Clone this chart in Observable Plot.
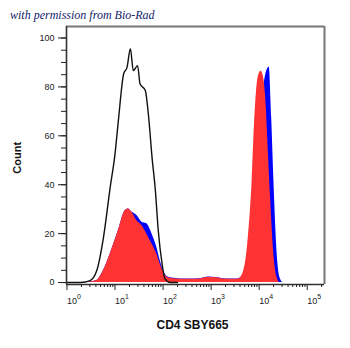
<!DOCTYPE html>
<html><head><meta charset="utf-8">
<script src="https://cdn.jsdelivr.net/npm/d3@7"></script>
<script src="https://cdn.jsdelivr.net/npm/@observablehq/plot@0.6"></script>
<style>
body{margin:0;background:#fff;}
#cap{height:20px;font:italic 12px "Liberation Serif","DejaVu Serif",serif;color:#16226b;padding-left:10px;line-height:30px;white-space:nowrap;overflow:visible;}
</style></head><body>
<div id="cap">with permission from Bio-Rad</div>
<div id="chart"></div>
<script>
// Black outline histogram (control)
const blackLog   = [0, 0.28, 0.48, 0.62, 0.76, 0.90, 1.0, 1.07, 1.18, 1.25, 1.32, 1.38, 1.47, 1.52, 1.63, 1.70, 1.77, 1.84, 1.90, 1.98, 2.04, 2.15, 2.3];
const blackCount = [0, 0, 0.8, 4.9, 18.5, 39, 52.6, 66.3, 85.4, 88, 95.6, 86.7, 88.7, 81.3, 78.5, 67.6, 51.3, 37.6, 21.3, 7.6, 1.5, 0, 0];
// Red filled histogram
const redLog   = [0.3, 0.48, 0.62, 0.76, 0.90, 1.07, 1.21, 1.28, 1.35, 1.45, 1.56, 1.66, 1.77, 1.87, 1.94, 2.01, 2.08, 2.22, 2.5, 2.77, 2.95, 3.1, 3.3, 3.5, 3.6, 3.71, 3.78, 3.85, 3.91, 3.98, 4.04, 4.09, 4.14, 4.19, 4.24, 4.30, 4.37, 4.43, 4.5];
const redCount = [0, 0.2, 0.8, 4.9, 11.7, 21.3, 29.4, 30.1, 28.8, 25.4, 23.3, 19.9, 15.8, 11.7, 7.6, 4.2, 2.2, 1.6, 1.3, 1.5, 2.2, 2.0, 1.4, 1.3, 1.8, 7.6, 19.9, 40, 67.6, 84, 86.4, 84, 74.4, 54, 33.5, 13, 2.2, 0, 0];
// Blue filled histogram
const blueLog   = [0.3, 0.48, 0.62, 0.76, 0.90, 1.07, 1.21, 1.28, 1.35, 1.45, 1.56, 1.66, 1.77, 1.87, 1.94, 2.01, 2.08, 2.22, 2.5, 2.77, 2.95, 3.1, 3.3, 3.5, 3.6, 3.7, 3.8, 3.9, 4.0, 4.08, 4.15, 4.21, 4.26, 4.31, 4.37, 4.43, 4.5, 4.55];
const blueCount = [0, 0.2, 0.8, 4.9, 11.7, 21.3, 29.4, 30.1, 28.8, 27.5, 24.7, 24.0, 19.9, 14.4, 9.0, 4.9, 2.5, 1.8, 1.4, 1.6, 2.3, 2.1, 1.5, 1.4, 1.8, 5, 15, 35, 62, 78, 86, 88, 67.6, 40, 13, 2.2, 0, 0];
// Tick values
const yMajor = [0, 20, 40, 60, 80, 100];
const yMinor = [0,5,10,15,20,25,30,35,40,45,50,55,60,65,70,75,80,85,90,95,100];
const xMajor = [1, 10, 100, 1000, 10000, 100000];

const xMin = 10 ** -0.01, xMax = 10 ** 5.36, yMin = -0.8, yMax = 104.7;
const xMinor = [];
for (const d of xMajor) for (let k = 2; k <= 9; k++) { const v = k * d; if (v <= xMax) xMinor.push(v); }

const toRows = (lg, c) => lg.map((e, i) => ({x: 10 ** e, y: c[i]}));
const black = toRows(blackLog, blackCount);
const red = toRows(redLog, redCount);
const blue = toRows(blueLog, blueCount);

const chart = Plot.plot({
  width: 350, height: 328,
  marginTop: 6, marginBottom: 64, marginLeft: 66, marginRight: 26,
  x: {type: "log", domain: [xMin, xMax]},
  y: {domain: [yMin, yMax]},
  style: {fontFamily: "'Liberation Sans', Arial, sans-serif", color: "#222", background: "white", overflow: "visible"},
  marks: [
    Plot.areaY(blue, {x: "x", y: "y", fill: "#0000ff", curve: "monotone-x"}),
    Plot.areaY(red, {x: "x", y: "y", fill: "#ff3333", curve: "monotone-x"}),
    Plot.line(black, {x: "x", y: "y", stroke: "#111", strokeWidth: 1.4, curve: "monotone-x"}),
    Plot.ruleY([yMax], {stroke: "#777", strokeWidth: 2}),
    Plot.ruleX([xMax], {stroke: "#777", strokeWidth: 2}),
    Plot.ruleX([xMin], {stroke: "#333", strokeWidth: 1.6}),
    Plot.ruleY([yMin], {stroke: "#333", strokeWidth: 1.6}),
    Plot.axisY({ticks: yMinor, tickSize: 5, tickFormat: () => "", label: null}),
    Plot.axisY({ticks: yMajor, tickSize: 8, tickPadding: 4, fontSize: 9, label: null}),
    Plot.axisX({ticks: xMinor, tickSize: 3, tickFormat: () => "", label: null}),
    Plot.axisX({ticks: xMajor, tickSize: 6, tickFormat: () => "", label: null}),
    Plot.text(xMajor, {x: d => d, text: () => "10", frameAnchor: "bottom", dy: 19, textAnchor: "start", fontSize: 9}),
    Plot.text(xMajor, {x: d => d, text: d => String(Math.round(Math.log10(d))), frameAnchor: "bottom", dy: 14, dx: 10, textAnchor: "start", fontSize: 7}),
    Plot.text(["CD4 SBY665"], {frameAnchor: "bottom", dy: 44, dx: -3, fontSize: 12, fontWeight: "bold", fill: "#111"}),
    Plot.text(["Count"], {x: () => xMin, y: () => 51, dx: -49, rotate: -90, fontSize: 11, fontWeight: "bold", fill: "#111"})
  ]
});
document.getElementById("chart").appendChild(chart);
</script>
</body></html>
